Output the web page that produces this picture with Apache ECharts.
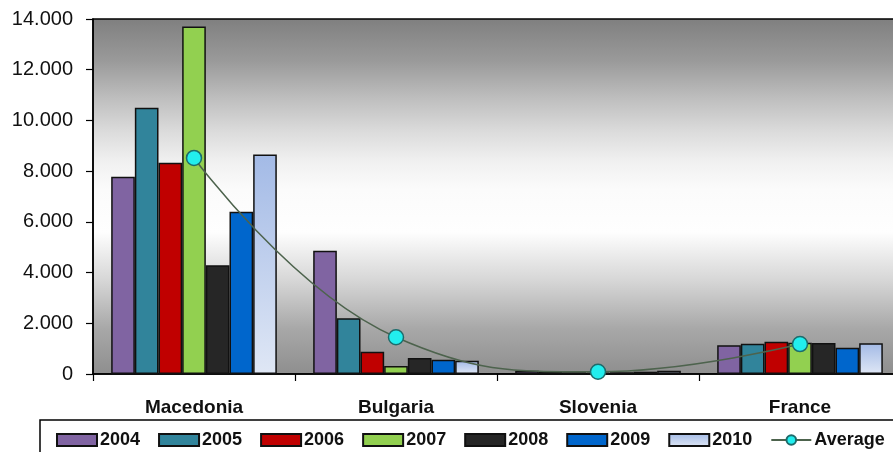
<!DOCTYPE html>
<html>
<head>
<meta charset="utf-8">
<script src="https://cdn.jsdelivr.net/npm/echarts@6/dist/echarts.min.js"></script>
<style>
  html, body { margin: 0; padding: 0; background: #ffffff; }
  #chart { width: 893px; height: 452px; }
</style>
</head>
<body>
<div id="chart"></div>
<script>
// Countries on the category axis
var countries = ['Macedonia', 'Bulgaria', 'Slovenia', 'France'];

// Yearly values per country
var y2004 = [7780, 4860, 130, 1130];
var y2005 = [10500, 2200, 120, 1190];
var y2006 = [8330, 880, 70, 1270];
var y2007 = [13700, 320, 50, 1230];
var y2008 = [4290, 630, 70, 1220];
var y2009 = [6400, 560, 90, 1040];
var y2010 = [8660, 520, 130, 1210];

// Average line across the years
var average = [8520, 1450, 90, 1180];

// Value axis ticks
var yTicks = [0, 2000, 4000, 6000, 8000, 10000, 12000, 14000];

var years = ['2004', '2005', '2006', '2007', '2008', '2009', '2010'];
var yearValues = [y2004, y2005, y2006, y2007, y2008, y2009, y2010];

var G = echarts.graphic;
var yearColors = [
  '#8064a2',
  '#31849b',
  '#c00000',
  '#92d050',
  '#262626',
  '#0066cc',
  new G.LinearGradient(0, 0, 0, 1, [
    { offset: 0, color: '#a3bae6' },
    { offset: 1, color: '#dfe7f5' }
  ])
];

function fmt(v) {
  return String(v).replace(/\B(?=(\d{3})+(?!\d))/g, '.');
}

var FONT = 'Liberation Sans, Arial, sans-serif';

var series = years.map(function (name, i) {
  return {
    name: name,
    type: 'bar',
    data: yearValues[i],
    barGap: '0%',
    barCategoryGap: '18%',
    itemStyle: {
      color: yearColors[i],
      borderColor: '#111111',
      borderWidth: 1.5
    },
    z: 2
  };
});

series.push({
  name: 'Average',
  type: 'line',
  data: average,
  smooth: 0.45,
  symbol: 'circle',
  symbolSize: 15,
  lineStyle: { color: '#4d634d', width: 1.5 },
  itemStyle: { color: '#22eeee', borderColor: '#1d6b6b', borderWidth: 1.5 },
  z: 5
});

var legendItems = years.map(function (n) { return { name: n, icon: 'rect' }; });
legendItems.push({ name: 'Average' });

var chart = echarts.init(document.getElementById('chart'), null, { renderer: 'canvas' });

chart.setOption({
  animation: false,
  backgroundColor: '#ffffff',
  grid: {
    left: 93,
    top: 19,
    right: -8,
    bottom: 78,
    outerBoundsMode: 'none',
    containLabel: false,
    show: true,
    borderColor: '#000000',
    borderWidth: 1.5,
    backgroundColor: new G.LinearGradient(0, 0, 0, 1, [
      { offset: 0, color: '#7f7f7f' },
      { offset: 0.12, color: '#9a9a9a' },
      { offset: 0.23, color: '#c0c0c0' },
      { offset: 0.32, color: '#dcdcdc' },
      { offset: 0.4, color: '#f0f0f0' },
      { offset: 0.48, color: '#fbfbfb' },
      { offset: 0.6, color: '#fefefe' },
      { offset: 0.74, color: '#d5d5d5' },
      { offset: 0.87, color: '#a8a8a8' },
      { offset: 1, color: '#8e8e8e' }
    ])
  },
  legend: {
    data: legendItems,
    left: 40,
    top: 420,
    width: 900,
    padding: [11, 40, 12, 16],
    borderColor: '#000000',
    borderWidth: 1.5,
    itemWidth: 40,
    itemHeight: 12,
    itemGap: 18,
    textStyle: {
      fontFamily: FONT,
      fontSize: 18,
      fontWeight: 'bold',
      color: '#111111',
      padding: [0, 0, 0, -2]
    },
    selectedMode: false
  },
  xAxis: {
    type: 'category',
    data: countries,
    axisLine: { lineStyle: { color: '#000000', width: 1.5 } },
    axisTick: { show: true, length: 7, lineStyle: { color: '#000000', width: 1.2 } },
    axisLabel: {
      margin: 24,
      fontFamily: FONT,
      fontSize: 19,
      fontWeight: 'bold',
      color: '#111111'
    },
    splitLine: { show: false }
  },
  yAxis: {
    type: 'value',
    min: yTicks[0],
    max: yTicks[yTicks.length - 1],
    interval: yTicks[1] - yTicks[0],
    axisLine: { show: true, lineStyle: { color: '#000000', width: 1.5 } },
    axisTick: { show: true, length: 7, lineStyle: { color: '#000000', width: 1.2 } },
    axisLabel: {
      margin: 20,
      fontFamily: FONT,
      fontSize: 20,
      color: '#111111',
      formatter: function (v) { return fmt(v); }
    },
    splitLine: { show: false }
  },
  series: series
});
</script>
</body>
</html>
